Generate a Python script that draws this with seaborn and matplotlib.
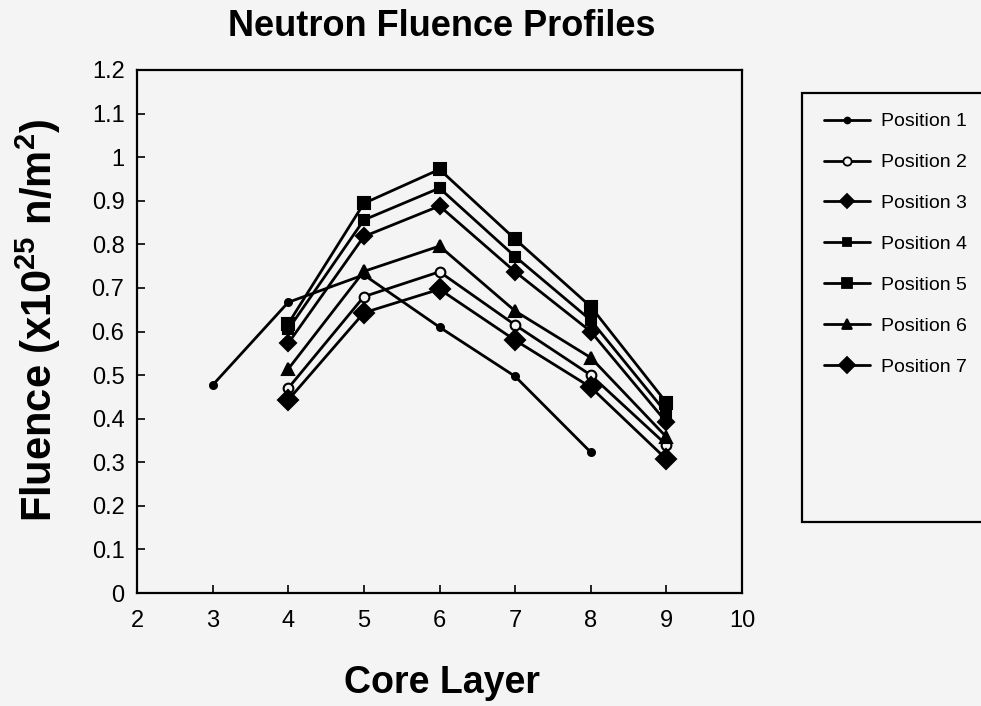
import numpy as np
import pandas as pd
import matplotlib
matplotlib.use("Agg")
import matplotlib.pyplot as plt
import seaborn as sns
from matplotlib.patches import Rectangle
from matplotlib.lines import Line2D

# ---- data ----
layers_p1 = [3, 4, 5, 6, 7, 8]
pos1 = [0.477, 0.667, 0.730, 0.610, 0.497, 0.323]
layers = [4, 5, 6, 7, 8, 9]
pos2 = [0.470, 0.680, 0.737, 0.615, 0.500, 0.340]
pos3 = [0.573, 0.818, 0.888, 0.737, 0.600, 0.392]
pos4 = [0.605, 0.856, 0.929, 0.772, 0.626, 0.413]
pos5 = [0.618, 0.894, 0.972, 0.812, 0.657, 0.437]
pos6 = [0.514, 0.738, 0.796, 0.647, 0.540, 0.358]
pos7 = [0.443, 0.643, 0.697, 0.580, 0.472, 0.307]
names = ["Position 1", "Position 2", "Position 3", "Position 4",
         "Position 5", "Position 6", "Position 7"]
x_ticks = [2, 3, 4, 5, 6, 7, 8, 9, 10]
y_ticks = [0, 0.1, 0.2, 0.3, 0.4, 0.5, 0.6, 0.7, 0.8, 0.9, 1, 1.1, 1.2]
y_tick_labels = ["0", "0.1", "0.2", "0.3", "0.4", "0.5", "0.6", "0.7",
                 "0.8", "0.9", "1", "1.1", "1.2"]

rows = []
for n, xs, ys in zip(names,
                     [layers_p1] + [layers] * 6,
                     [pos1, pos2, pos3, pos4, pos5, pos6, pos7]):
    for xv, yv in zip(xs, ys):
        rows.append({"Core Layer": xv, "Fluence": yv, "Series": n})
df = pd.DataFrame(rows)

sns.set_theme(style="white")
bg = "#f4f4f4"
plt.rcParams["font.family"] = ["Liberation Sans", "DejaVu Sans"]
plt.rcParams["text.color"] = "black"
plt.rcParams["mathtext.fontset"] = "custom"
plt.rcParams["mathtext.rm"] = "Liberation Sans"
plt.rcParams["mathtext.bf"] = "Liberation Sans:bold"

fig = plt.figure(figsize=(9.81, 7.06), dpi=100, facecolor=bg)
ax = fig.add_axes([137 / 981, 1 - 593 / 706, (742 - 137) / 981, (593 - 70) / 706])
ax.set_facecolor(bg)

markers = {"Position 1": "o", "Position 2": "o", "Position 3": "D",
           "Position 4": "s", "Position 5": "s", "Position 6": "^",
           "Position 7": "D"}
sizes_m = {"Position 1": 5, "Position 2": 7, "Position 3": 8,
           "Position 4": 7, "Position 5": 8, "Position 6": 9,
           "Position 7": 10}
faces = {"Position 1": "black", "Position 2": bg, "Position 3": "black",
         "Position 4": "black", "Position 5": "black", "Position 6": "black",
         "Position 7": "black"}

palette = {n: "black" for n in names}
sns.lineplot(data=df, x="Core Layer", y="Fluence", hue="Series",
             palette=palette, legend=False, ax=ax, linewidth=2.0,
             sort=False, estimator=None)
for n in names:
    sub = df[df["Series"] == n]
    ax.plot(sub["Core Layer"], sub["Fluence"], linestyle="none",
            marker=markers[n], markersize=sizes_m[n],
            markerfacecolor=faces[n], markeredgecolor="black",
            markeredgewidth=1.5)

ax.set_xlim(2, 10)
ax.set_ylim(0, 1.2)
ax.set_xticks(x_ticks)
ax.set_yticks(y_ticks)
ax.set_yticklabels(y_tick_labels)
for lab in ax.get_xticklabels() + ax.get_yticklabels():
    lab.set_fontsize(17)
    lab.set_color("black")
ax.tick_params(axis="both", direction="in", length=6, width=1.2,
               colors="black", left=True, bottom=True)
ax.tick_params(axis="y", pad=9)
ax.tick_params(axis="x", pad=12)
for s in ax.spines.values():
    s.set_color("black")
    s.set_linewidth(1.6)
ax.set_xlabel("")
ax.set_ylabel("")

fig.text(442 / 981, 1 - 27 / 706, "Neutron Fluence Profiles", fontsize=26,
         fontweight="bold", ha="center", va="center")
fig.text(442 / 981, 1 - 683 / 706, "Core Layer", fontsize=27,
         fontweight="bold", ha="center", va="center")
fig.text(38 / 981, 1 - 320 / 706,
         "Fluence (x10$^{\\mathbf{25}}$ n/m$^{\\mathbf{2}}$)",
         fontsize=30, fontweight="bold", ha="center", va="center",
         rotation=90)

# legend box
rect = Rectangle((802 / 981, 1 - 522 / 706), 0.3, (522 - 93) / 706,
                 transform=fig.transFigure, facecolor=bg, edgecolor="black",
                 linewidth=1.6, clip_on=False)
fig.patches.append(rect)
handles = [Line2D([0], [0], color="black", linewidth=2.0, marker=markers[n],
                  markersize=sizes_m[n] * 0.85, markerfacecolor=faces[n],
                  markeredgecolor="black", markeredgewidth=1.3)
           for n in names]
leg = fig.legend(handles, names, loc="upper left",
                 bbox_to_anchor=(816 / 981, 1 - 105 / 706),
                 frameon=False, prop={"size": 14},
                 handlelength=2.4, labelspacing=1.2, handletextpad=0.55,
                 borderaxespad=0)
for t in leg.get_texts():
    t.set_color("black")

fig.savefig("out.png", dpi=100, facecolor=bg)
